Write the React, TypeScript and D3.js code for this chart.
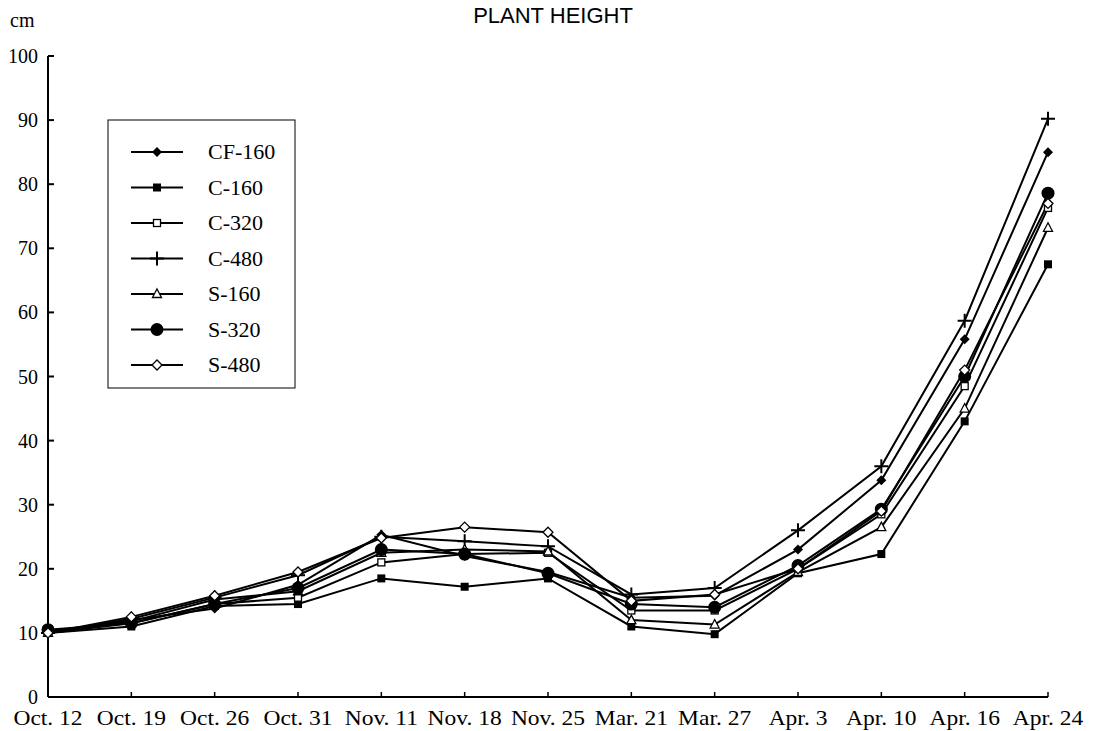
import React from "react";
import * as d3 from "d3";

const categories = ["Oct. 12", "Oct. 19", "Oct. 26", "Oct. 31", "Nov. 11", "Nov. 18", "Nov. 25", "Mar. 21", "Mar. 27", "Apr. 3", "Apr. 10", "Apr. 16", "Apr. 24"];
const yTicks = [0, 10, 20, 30, 40, 50, 60, 70, 80, 90, 100];

const cf160 = [10.2, 12, 13.8, 17.5, 25.3, 22, 19.5, 15.5, 15.8, 23, 33.8, 55.8, 85];
const c160 = [10, 11, 14.2, 14.5, 18.5, 17.2, 18.5, 11, 9.8, 19.3, 22.3, 43, 67.5];
const c320 = [10, 11.5, 14.5, 15.5, 21, 22.3, 22.5, 13.5, 13.5, 20, 28.5, 48.5, 76.3];
const c480 = [10, 12.2, 15.5, 19, 25, 24.3, 23.5, 16, 17, 26, 36, 58.7, 90.2];
const s160 = [10, 11.8, 15.2, 16.5, 22.5, 23, 22.7, 12, 11.3, 19.5, 26.5, 45, 73.2];
const s320 = [10.5, 11.5, 14.5, 17, 23, 22.3, 19.3, 14.5, 14, 20.5, 29.3, 50, 78.6];
const s480 = [10, 12.5, 15.8, 19.5, 24.8, 26.5, 25.7, 15, 16, 20, 29, 51, 77];

const seriesNames = ["CF-160", "C-160", "C-320", "C-480", "S-160", "S-320", "S-480"];
const seriesValues = [cf160, c160, c320, c480, s160, s320, s480];
const markerKinds = ["diamondFilled", "squareFilled", "squareOpen", "plus", "triangleOpen", "circleFilled", "diamondOpen"];

const W = 1104, H = 731;
const x0 = 48, x1 = 1048, yTop = 56, yBot = 697;
const serif = "'Liberation Serif', 'Times New Roman', serif";

function Marker({ kind, cx, cy }: { kind: string; cx: number; cy: number }) {
  switch (kind) {
    case "diamondFilled":
      return <path d={`M${cx},${cy - 5}L${cx + 5},${cy}L${cx},${cy + 5}L${cx - 5},${cy}Z`} fill="#000" />;
    case "squareFilled":
      return <rect x={cx - 4} y={cy - 4} width={8} height={8} fill="#000" />;
    case "squareOpen":
      return <rect x={cx - 3.5} y={cy - 3.5} width={7} height={7} fill="#fff" stroke="#000" strokeWidth={1.3} />;
    case "plus":
      return <path d={`M${cx - 7},${cy}H${cx + 7}M${cx},${cy - 7}V${cy + 7}`} stroke="#000" strokeWidth={2} />;
    case "triangleOpen":
      return <path d={`M${cx},${cy - 5}L${cx + 4.5},${cy + 3.5}L${cx - 4.5},${cy + 3.5}Z`} fill="#fff" stroke="#000" strokeWidth={1.3} />;
    case "circleFilled":
      return <circle cx={cx} cy={cy} r={6.5} fill="#000" />;
    case "diamondOpen":
      return <path d={`M${cx},${cy - 5}L${cx + 5},${cy}L${cx},${cy + 5}L${cx - 5},${cy}Z`} fill="#fff" stroke="#000" strokeWidth={1.3} />;
  }
  return null;
}

export default function App() {
  const x = d3.scalePoint<string>().domain(categories).range([x0, x1]);
  const y = d3.scaleLinear().domain([0, 100]).range([yBot, yTop]);
  const line = d3.line<number>().x((_, i) => x(categories[i]) as number).y((d) => y(d));

  return (
    <svg width={W} height={H} style={{ position: "absolute", left: 0, top: 0, background: "#fff" }}>
      <rect width={W} height={H} fill="#fff" />
      <text x={553} y={23} textAnchor="middle" fontFamily="'Liberation Sans', Arial, sans-serif" fontSize={22}>PLANT HEIGHT</text>
      <text x={10} y={27} fontFamily={serif} fontSize={20}>cm</text>

      {/* y axis */}
      <line x1={x0} y1={yTop} x2={x0} y2={yBot} stroke="#000" strokeWidth={2} />
      {yTicks.map((t) => (
        <g key={t}>
          <line x1={x0} x2={x0 + 6} y1={y(t)} y2={y(t)} stroke="#000" strokeWidth={2} />
          <text x={38} y={y(t) + 7} textAnchor="end" fontFamily={serif} fontSize={20}>{t}</text>
        </g>
      ))}

      {/* x axis */}
      <line x1={x0} y1={yBot} x2={x1} y2={yBot} stroke="#000" strokeWidth={2} />
      {categories.map((c) => (
        <g key={c}>
          <line x1={x(c)} x2={x(c)} y1={yBot} y2={yBot - 5} stroke="#000" strokeWidth={1.5} />
          <text transform={`translate(${x(c)},725) scale(1.12,1)`} textAnchor="middle" fontFamily={serif} fontSize={21}>{c}</text>
        </g>
      ))}

      {/* series */}
      {seriesValues.map((vals, si) => (
        <g key={seriesNames[si]}>
          <path d={line(vals) || ""} fill="none" stroke="#000" strokeWidth={2} />
        </g>
      ))}
      {seriesValues.map((vals, si) => (
        <g key={"m" + seriesNames[si]}>
          {vals.map((v, i) => (
            <Marker key={i} kind={markerKinds[si]} cx={x(categories[i]) as number} cy={y(v)} />
          ))}
        </g>
      ))}

      {/* legend */}
      <rect x={108} y={120} width={187} height={268} fill="#fff" stroke="#000" strokeWidth={1} />
      {seriesNames.map((n, i) => {
        const ly = 152 + i * 35.5;
        return (
          <g key={"l" + n}>
            <line x1={131} x2={183} y1={ly} y2={ly} stroke="#000" strokeWidth={2} />
            <Marker kind={markerKinds[i]} cx={157} cy={ly} />
            <text x={208} y={ly + 7} fontFamily={serif} fontSize={22}>{n}</text>
          </g>
        );
      })}
    </svg>
  );
}
